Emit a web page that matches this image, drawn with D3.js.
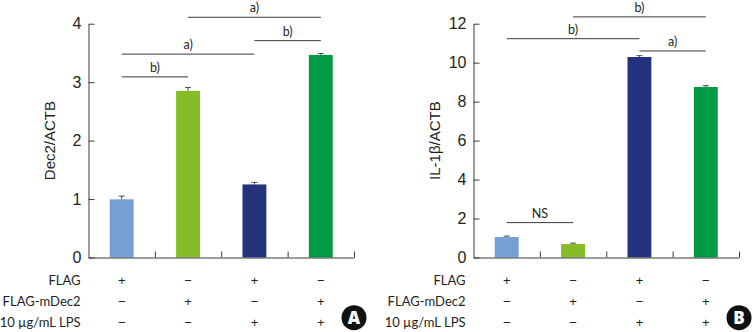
<!DOCTYPE html>
<html>
<head>
<meta charset="utf-8">
<script src="https://cdnjs.cloudflare.com/ajax/libs/d3/7.8.5/d3.min.js"></script>
<style>
  html, body { margin: 0; padding: 0; background: #fff; }
  svg { display: block; }
  .tick text { font-family: "Liberation Sans", Arial, sans-serif; font-size: 16px; fill: #231f20; }
  .row-label { font-family: Lato, sans-serif; font-size: 13px; fill: #231f20; }
  .sign { font-family: "Liberation Sans", sans-serif; font-size: 13px; fill: #231f20; }
  .y-title { font-family: "Liberation Sans", Arial, sans-serif; font-size: 15px; fill: #231f20; }
  .note { font-family: Lato, sans-serif; font-size: 12.5px; fill: #231f20; }
  .badge { font-family: "Open Sans", sans-serif; font-size: 17px; font-weight: 800; fill: #fff; }
</style>
</head>
<body>
<div id="chart"></div>
<script>
var groups = ['g1', 'g2', 'g3', 'g4'];
var barColors = ['#769fd3', '#86bc25', '#25337f', '#009a44'];

var rowLabels = ['FLAG', 'FLAG-mDec2', '10 \u00B5g/mL LPS'];
var rowSigns = [
  ['+', '\u2212', '+', '\u2212'],
  ['\u2212', '+', '\u2212', '+'],
  ['\u2212', '\u2212', '+', '+']
];

var dec2Values = [0.995, 2.85, 1.25, 3.465];
var dec2Errors = [0.055, 0.06, 0.035, 0.025];
var dec2Ticks = [0, 1, 2, 3, 4];
// from group, to group, level, label
var dec2Brackets = [
  [0, 1, 3.09, 'b)'],
  [0, 2, 3.48, 'a)'],
  [2, 3, 3.71, 'b)'],
  [1, 3, 4.11, 'a)']
];

var il1bValues = [1.05, 0.69, 10.29, 8.75];
var il1bErrors = [0.05, 0.05, 0.07, 0.07];
var il1bTicks = [0, 2, 4, 6, 8, 10, 12];
var il1bBrackets = [
  [0, 1, 1.79, 'NS'],
  [0, 2, 11.23, 'b)'],
  [2, 3, 10.6, 'a)'],
  [1, 3, 12.35, 'b)']
];

var svg = d3.select('#chart').append('svg')
  .attr('width', 753)
  .attr('height', 332);

function drawPanel(opts) {
  var plotTop = 23.7;
  var plotBottom = 257.5;

  var yScale = d3.scaleLinear()
    .domain([0, opts.yMax])
    .range([plotBottom, plotTop]);

  // edges are used for the axis ticks, band for the bars
  var xEdge = d3.scaleLinear()
    .domain([0, groups.length])
    .range([opts.left, opts.right]);

  var xBand = d3.scaleBand()
    .domain(groups)
    .range([opts.left, opts.right])
    .paddingInner(0.64)
    .paddingOuter(0.32);

  function center(i) {
    return xBand(groups[i]) + xBand.bandwidth() / 2;
  }

  var g = svg.append('g');

  // bars
  g.selectAll('rect.bar')
    .data(opts.values)
    .enter()
    .append('rect')
    .attr('class', 'bar')
    .attr('x', function(d, i) { return xBand(groups[i]); })
    .attr('y', function(d) { return yScale(d); })
    .attr('width', xBand.bandwidth())
    .attr('height', function(d) { return plotBottom - yScale(d); })
    .attr('fill', function(d, i) { return barColors[i]; });

  // error bars, upper half only
  var errs = g.selectAll('g.err')
    .data(opts.values)
    .enter()
    .append('g')
    .attr('class', 'err')
    .attr('stroke', '#231f20')
    .attr('stroke-width', 0.8);

  errs.append('line')
    .attr('x1', function(d, i) { return center(i); })
    .attr('x2', function(d, i) { return center(i); })
    .attr('y1', function(d) { return yScale(d); })
    .attr('y2', function(d, i) { return yScale(d + opts.errors[i]); });

  errs.append('line')
    .attr('x1', function(d, i) { return center(i) - 3; })
    .attr('x2', function(d, i) { return center(i) + 3; })
    .attr('y1', function(d, i) { return yScale(d + opts.errors[i]); })
    .attr('y2', function(d, i) { return yScale(d + opts.errors[i]); });

  // axes, ticks point into the plot
  var yAxis = d3.axisLeft(yScale)
    .tickValues(opts.ticks)
    .tickFormat(d3.format('d'))
    .tickSize(-6)
    .tickSizeOuter(0)
    .tickPadding(7);
  var yG = g.append('g')
    .attr('transform', 'translate(' + opts.left + ',0)')
    .call(yAxis);

  var xAxis = d3.axisBottom(xEdge)
    .tickValues([1, 2, 3, 4])
    .tickFormat('')
    .tickSize(-6)
    .tickSizeOuter(0);
  var xG = g.append('g')
    .attr('transform', 'translate(0,' + plotBottom + ')')
    .call(xAxis);

  [yG, xG].forEach(function(a) {
    a.selectAll('path, line').attr('stroke', '#3a3a3a').attr('stroke-width', 1);
  });

  // y axis title
  g.append('text')
    .attr('class', 'y-title')
    .attr('transform', 'translate(' + opts.titleX + ',' + ((plotTop + plotBottom) / 2) + ') rotate(-90)')
    .attr('text-anchor', 'middle')
    .text(opts.yTitle);

  // significance brackets
  opts.brackets.forEach(function(b) {
    g.append('line')
      .attr('x1', center(b[0]))
      .attr('x2', center(b[1]))
      .attr('y1', yScale(b[2]))
      .attr('y2', yScale(b[2]))
      .attr('stroke', '#3a3a3a')
      .attr('stroke-width', 1);
    g.append('text')
      .attr('class', 'note')
      .attr('x', (center(b[0]) + center(b[1])) / 2)
      .attr('y', yScale(b[2]) - 5)
      .attr('text-anchor', 'middle')
      .text(b[3]);
  });

  // +/- table under the plot
  var rowY = d3.scalePoint()
    .domain(rowLabels)
    .range([280, 322]);

  rowLabels.forEach(function(label, r) {
    g.append('text')
      .attr('class', 'row-label')
      .attr('x', opts.left - 8)
      .attr('y', rowY(label))
      .attr('dy', '0.36em')
      .attr('text-anchor', 'end')
      .text(label);

    g.selectAll('text.sign' + r)
      .data(rowSigns[r])
      .enter()
      .append('text')
      .attr('class', 'sign sign' + r)
      .attr('x', function(d, i) { return center(i); })
      .attr('y', rowY(label))
      .attr('dy', '0.36em')
      .attr('text-anchor', 'middle')
      .text(function(d) { return d; });
  });

  // panel letter
  g.append('circle')
    .attr('cx', opts.right)
    .attr('cy', 317.7)
    .attr('r', 12.5)
    .attr('fill', '#111');
  g.append('text')
    .attr('class', 'badge')
    .attr('x', opts.right)
    .attr('y', 317.7)
    .attr('dy', '0.36em')
    .attr('text-anchor', 'middle')
    .text(opts.letter);
}

drawPanel({
  left: 88.5, right: 354, titleX: 55, yMax: 4,
  values: dec2Values, errors: dec2Errors, ticks: dec2Ticks,
  brackets: dec2Brackets, yTitle: 'Dec2/ACTB', letter: 'A'
});

drawPanel({
  left: 473.5, right: 739, titleX: 439.5, yMax: 12,
  values: il1bValues, errors: il1bErrors, ticks: il1bTicks,
  brackets: il1bBrackets, yTitle: 'IL-1\u03B2/ACTB', letter: 'B'
});
</script>
</body>
</html>
